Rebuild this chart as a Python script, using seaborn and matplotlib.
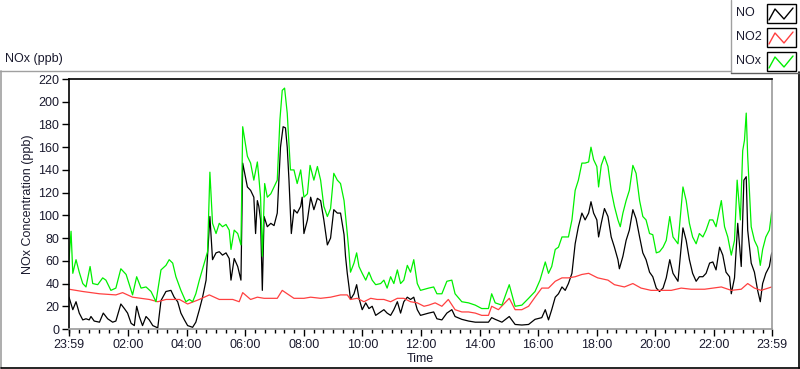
import matplotlib
matplotlib.use("Agg")
import matplotlib.pyplot as plt
import seaborn as sns
import pandas as pd
from matplotlib.lines import Line2D
from matplotlib.patches import Rectangle

sns.set_theme(style="white")
plt.rcParams["font.family"] = ["Liberation Sans", "DejaVu Sans"]

# ---- data (hours elapsed since 23:59, ppb) ----
no_hours = [0.00, 0.13, 0.24, 0.35, 0.47, 0.58, 0.69, 0.75, 0.86, 1.04, 1.17, 1.32, 1.49, 1.60, 1.77, 1.89,
            2.00, 2.12, 2.23, 2.31, 2.40, 2.51, 2.63, 2.74, 2.86, 3.03, 3.14, 3.31, 3.48, 3.59, 3.71, 3.82,
            3.94, 4.05, 4.22, 4.33, 4.45, 4.56, 4.68, 4.81, 4.90, 5.02, 5.13, 5.24, 5.36, 5.47, 5.53, 5.64,
            5.76, 5.87, 5.93, 6.09, 6.20, 6.31, 6.37, 6.43, 6.48, 6.54, 6.60, 6.66, 6.77, 6.89, 7.00, 7.11,
            7.22, 7.31, 7.39, 7.45, 7.51, 7.59, 7.68, 7.79, 7.91, 7.96, 8.02, 8.14, 8.25, 8.36, 8.48, 8.59,
            8.70, 8.82, 8.93, 9.04, 9.16, 9.27, 9.39, 9.44, 9.50, 9.56, 9.61, 9.73, 9.82, 9.90, 10.01, 10.13,
            10.24, 10.35, 10.47, 10.64, 10.75, 10.86, 10.98, 11.09, 11.21, 11.32, 11.43, 11.55, 11.66, 11.77,
            11.89, 12.00, 12.28, 12.45, 12.56, 12.73, 12.90, 13.07, 13.18, 13.41, 13.64, 13.87, 14.09, 14.32,
            14.43, 14.55, 14.78, 15.03, 15.23, 15.46, 15.69, 15.91, 16.14, 16.26, 16.37, 16.48, 16.60, 16.71,
            16.83, 16.94, 17.05, 17.17, 17.28, 17.39, 17.51, 17.62, 17.74, 17.82, 17.91, 18.02, 18.08, 18.17,
            18.28, 18.40, 18.51, 18.62, 18.74, 18.79, 18.91, 19.02, 19.13, 19.25, 19.36, 19.48, 19.59, 19.70,
            19.82, 19.93, 20.05, 20.16, 20.28, 20.39, 20.51, 20.62, 20.79, 20.96, 21.07, 21.18, 21.29, 21.41,
            21.52, 21.64, 21.75, 21.87, 21.98, 22.09, 22.21, 22.32, 22.43, 22.55, 22.61, 22.72, 22.83, 22.95,
            23.04, 23.12, 23.17, 23.29, 23.40, 23.51, 23.60, 23.68, 23.79, 23.91, 23.99]
no_ppb = [28, 17, 24, 14, 8, 9, 8, 11, 7, 6, 14, 9, 6, 7, 22, 18,
          14, 5, 3, 20, 11, 3, 11, 8, 3, 1, 25, 33, 34, 28, 24, 14,
          8, 3, 1.5, 6, 17, 28, 43, 99, 61, 67, 68, 65, 67, 62, 43, 62,
          55, 43, 146, 125, 122, 116, 84, 113, 108, 96, 34, 99, 90, 93, 91, 102,
          160, 178, 177, 160, 131, 84, 105, 102, 108, 116, 84, 96, 116, 105, 115, 113,
          96, 74, 80, 105, 102, 102, 83, 64, 49, 37, 26, 31, 39, 27, 17, 23,
          18, 20, 12, 15, 17, 14, 12, 17, 24, 14, 24, 28, 26, 28,
          17, 12, 14, 15, 9, 8, 14, 17, 11, 8.5, 7, 6, 6, 6,
          10, 8.5, 6, 11, 4, 3.5, 4, 8.5, 10, 17, 8, 17, 28, 31,
          37, 34, 40, 49, 75, 90, 102, 96, 102, 112, 102, 96, 81, 93,
          106, 99, 81, 72, 61, 53, 64, 78, 87, 105, 97, 81, 67, 61,
          50, 46, 36, 33, 36, 45, 61, 49, 42, 89, 78, 61, 49, 42,
          46, 46, 49, 58, 59, 52, 72, 65, 50, 46, 31, 45, 93, 55,
          131, 134, 87, 58, 50, 34, 24, 40, 49, 55, 67]

no2_hours = [0.00, 0.47, 1.04, 1.60, 1.83, 2.17, 2.74, 3.03, 3.31, 3.77, 4.05, 4.45, 4.79, 5.13, 5.59, 5.81,
             5.93, 6.20, 6.43, 6.66, 6.89, 7.11, 7.28, 7.45, 7.68, 8.02, 8.25, 8.59, 8.93, 9.27, 9.50, 9.61,
             9.84, 10.07, 10.30, 10.52, 10.75, 10.98, 11.21, 11.43, 11.66, 11.89, 12.12, 12.28, 12.50, 12.73,
             12.95, 13.18, 13.41, 13.64, 13.87, 14.09, 14.32, 14.43, 14.66, 15.03, 15.23, 15.46, 15.69, 15.91,
             16.14, 16.37, 16.60, 16.83, 17.05, 17.28, 17.51, 17.74, 17.97, 18.05, 18.40, 18.62, 18.96, 19.25,
             19.53, 19.87, 20.22, 20.56, 20.90, 21.24, 21.70, 22.27, 22.61, 22.95, 23.17, 23.40, 23.63, 23.99]
no2_ppb = [35, 33, 31, 30, 32, 28, 26, 24, 26, 26, 22, 26, 30, 26, 26, 24,
           32, 26, 28, 27, 27, 27, 34, 31, 27, 27, 28, 27, 28, 30, 30, 26,
           27, 24, 27, 26, 26, 24, 27, 27, 24, 23, 20, 21, 23, 20,
           26, 17, 15, 15, 14, 12, 12, 20, 17, 27, 17, 17, 20, 28,
           36, 36, 42, 45, 45, 46, 48, 49, 46, 45, 43, 39, 37, 40,
           36, 34, 34, 34, 36, 35, 35, 37, 34, 35, 40, 36, 34, 37]

nox_hours = [0.00, 0.07, 0.13, 0.24, 0.35, 0.47, 0.58, 0.72, 0.81, 0.98, 1.15, 1.26, 1.43, 1.60, 1.77, 1.95,
             2.06, 2.17, 2.31, 2.46, 2.63, 2.80, 2.97, 3.14, 3.31, 3.42, 3.54, 3.65, 3.82, 3.99, 4.11, 4.22,
             4.33, 4.45, 4.62, 4.73, 4.81, 4.90, 5.02, 5.13, 5.24, 5.36, 5.47, 5.53, 5.64, 5.76, 5.87, 5.93,
             6.09, 6.20, 6.31, 6.43, 6.48, 6.54, 6.60, 6.68, 6.77, 6.89, 7.00, 7.11, 7.20, 7.28, 7.36, 7.45,
             7.56, 7.68, 7.79, 7.91, 8.02, 8.14, 8.23, 8.36, 8.48, 8.59, 8.70, 8.82, 8.93, 9.04, 9.16, 9.27,
             9.39, 9.50, 9.56, 9.61, 9.73, 9.82, 9.90, 10.01, 10.13, 10.24, 10.35, 10.47, 10.64, 10.75, 10.86,
             10.98, 11.09, 11.21, 11.32, 11.43, 11.55, 11.66, 11.77, 11.89, 12.00, 12.28, 12.45, 12.56, 12.73,
             12.90, 13.07, 13.18, 13.41, 13.64, 13.87, 14.09, 14.32, 14.43, 14.55, 14.78, 15.03, 15.23, 15.46,
             15.69, 15.91, 16.08, 16.26, 16.37, 16.48, 16.60, 16.71, 16.83, 16.94, 17.05, 17.17, 17.28, 17.39,
             17.51, 17.62, 17.74, 17.82, 17.91, 18.02, 18.08, 18.17, 18.28, 18.40, 18.51, 18.62, 18.74, 18.82,
             18.91, 19.02, 19.13, 19.25, 19.36, 19.48, 19.59, 19.70, 19.82, 19.93, 20.05, 20.16, 20.28, 20.39,
             20.51, 20.62, 20.79, 20.96, 21.07, 21.18, 21.29, 21.41, 21.52, 21.64, 21.75, 21.87, 21.98, 22.09,
             22.27, 22.38, 22.49, 22.61, 22.72, 22.81, 22.92, 23.00, 23.06, 23.12, 23.17, 23.29, 23.40, 23.51,
             23.60, 23.68, 23.79, 23.91, 23.99]
nox_ppb = [61, 86, 49, 61, 50, 40, 37, 55, 40, 39, 45, 43, 34, 36, 53, 48,
           39, 30, 46, 36, 37, 33, 24, 52, 56, 61, 58, 46, 34, 24, 26, 24,
           31, 43, 58, 68, 138, 93, 84, 93, 90, 92, 87, 70, 87, 84, 74, 178,
           152, 146, 131, 147, 134, 116, 64, 128, 116, 119, 125, 131, 184, 210, 212, 190,
           140, 140, 128, 140, 116, 119, 144, 131, 143, 131, 108, 99, 106, 137, 131, 128,
           113, 84, 67, 50, 58, 67, 55, 49, 43, 50, 43, 39, 40, 43, 36,
           46, 40, 52, 40, 43, 56, 50, 61, 40, 34, 36, 37, 31, 31,
           42, 43, 31, 24, 23, 21, 18, 18, 31, 23, 21, 39, 20, 21,
           27, 33, 43, 59, 49, 55, 70, 72, 81, 81, 81, 96, 122, 131,
           146, 146, 147, 160, 149, 143, 125, 144, 152, 143, 122, 108, 96, 90,
           102, 113, 122, 144, 137, 113, 99, 96, 84, 83, 67, 68, 72, 78,
           99, 81, 75, 125, 113, 93, 81, 75, 84, 81, 87, 96, 96, 90,
           113, 90, 81, 65, 78, 131, 96, 157, 166, 190, 152, 90, 78, 72,
           56, 70, 81, 87, 103]

series_names = ["NO", "NO2", "NOx"]
series_colors = ["#000000", "#ff4040", "#00f000"]
tick_labels = ["23:59", "02:00", "04:00", "06:00", "08:00", "10:00", "12:00",
               "14:00", "16:00", "18:00", "20:00", "22:00", "23:59"]
tick_hours = [0.0] + [h + 1 / 60 for h in range(2, 24, 2)] + [24.0]
y_ticks = list(range(0, 221, 20))

df = pd.concat([
    pd.DataFrame({"hours": no_hours, "ppb": no_ppb, "series": "NO"}),
    pd.DataFrame({"hours": no2_hours, "ppb": no2_ppb, "series": "NO2"}),
    pd.DataFrame({"hours": nox_hours, "ppb": nox_ppb, "series": "NOx"}),
])

W, H = 800, 369
fig = plt.figure(figsize=(W / 100, H / 100), dpi=100)
fig.patch.set_facecolor("white")

def fx(px):
    return px / W

def fy(py):
    return 1 - py / H

ax = fig.add_axes([fx(69), fy(329), fx(772) - fx(69), fy(79) - fy(329)])
ax.set_facecolor("white")

for name, color in zip(series_names, series_colors):
    sns.lineplot(data=df[df["series"] == name], x="hours", y="ppb", color=color,
                 linewidth=0.9, ax=ax, legend=False, estimator=None, sort=False)

txt_color = "#1a1a2e"
fs = 9
ax.set_xlim(0, 24)
ax.set_ylim(0, 220)
ax.set_xticks(tick_hours)
ax.set_xticklabels(tick_labels)
ax.set_xticks([1 / 60 + k / 3 for k in range(72)], minor=True)
ax.set_yticks(y_ticks)
ax.tick_params(axis="both", which="major", direction="out", length=5, width=1,
               color="black", labelsize=fs, labelcolor=txt_color, pad=2, bottom=True, left=True)
ax.tick_params(axis="x", which="minor", direction="out", length=3, width=1, color="black", bottom=True)
for s in ["left", "top"]:
    ax.spines[s].set_color("black")
for s in ["right", "bottom"]:
    ax.spines[s].set_color("#9a9a9a")
for s in ax.spines.values():
    s.set_linewidth(1.2)
ax.set_xlabel("Time", fontsize=fs, labelpad=2, color=txt_color)
ax.set_ylabel("NOx Concentration (ppb)", fontsize=fs, labelpad=3, color=txt_color)
ax.grid(False)

# outer panel frame
fig.add_artist(Line2D([fx(0), fx(731)], [fy(70.5), fy(70.5)], color="#a0a0a0", lw=1))
fig.add_artist(Line2D([fx(1), fx(1)], [fy(70.5), fy(368)], color="#a0a0a0", lw=1.2))
fig.add_artist(Line2D([fx(1), fx(799.5)], [fy(367.5), fy(367.5)], color="black", lw=1.2))
fig.add_artist(Line2D([fx(798.5), fx(798.5)], [fy(72), fy(368)], color="black", lw=1.2))
fig.text(fx(5), fy(59), "NOx (ppb)", fontsize=fs, color=txt_color, va="center", ha="left")

# legend panel
fig.add_artist(Line2D([fx(731), fx(731)], [fy(0), fy(72.5)], color="#a0a0a0", lw=1))
fig.add_artist(Line2D([fx(731), fx(799)], [fy(72.5), fy(72.5)], color="#606060", lw=1))
for i, (name, color) in enumerate(zip(series_names, series_colors)):
    y0 = 4 + i * 24
    fig.text(fx(736), fy(y0 + 9.5), name, fontsize=fs, color=txt_color, va="center", ha="left")
    fig.add_artist(Rectangle((fx(767), fy(y0 + 19)), fx(796) - fx(767), fy(y0) - fy(y0 + 19),
                             facecolor="white", edgecolor="black", lw=1))
    fig.add_artist(Line2D([fx(769), fx(775), fx(784), fx(793)],
                          [fy(y0 + 16), fy(y0 + 5), fy(y0 + 15), fy(y0 + 4)], color=color, lw=1))

fig.savefig("out.png", dpi=100, facecolor="white")
